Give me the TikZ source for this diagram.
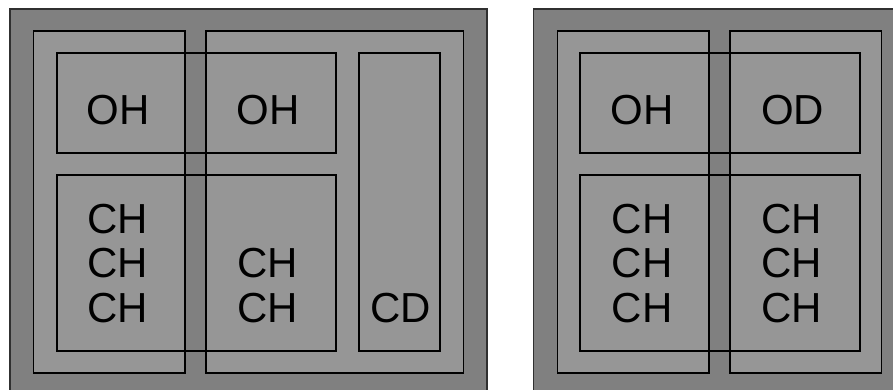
\documentclass[tikz,border=0pt]{standalone}
\usepackage{fontspec}
\setmainfont{Liberation Sans}
\definecolor{outerfill}{HTML}{808080}
\definecolor{innerfill}{HTML}{969696}
\definecolor{outerline}{HTML}{303030}
\begin{document}
\begin{tikzpicture}[x=1pt,y=-1pt,
  panel/.style={fill=outerfill,draw=outerline,line width=1.1pt},
  colbox/.style={fill=innerfill,draw=black,line width=1.4pt},
  rowbox/.style={draw=black,line width=1.4pt},
  lbl/.style={font=\fontsize{42}{44.5}\selectfont,anchor=base,inner sep=0pt,text=black,align=center}]
\useasboundingbox (0,0) rectangle (893,390);
\clip (0,0) rectangle (893,390);
% left panel
\path[panel] (10,9) rectangle (487,400);
\path[colbox] (33.5,31) rectangle (185,373);
\path[colbox] (206,31) rectangle (463.5,373);
\path[rowbox] (57,53) rectangle (336,153);
\path[rowbox] (57,175) rectangle (336,351);
\path[rowbox] (359,53) rectangle (440,351);
\node[lbl] (oh1) at (118,125) {OH};
\node[lbl] (oh2) at (268,125) {OH};
\node[lbl] (ch1a) at (118,233) {CH};
\node[lbl] (ch1b) at (118,277.5) {CH};
\node[lbl] (ch1c) at (118,322) {CH};
\node[lbl] (ch2a) at (268,277.5) {CH};
\node[lbl] (ch2b) at (268,322) {CH};
\node[lbl] (cd) at (401,322) {CD};
% right panel
\path[panel] (533.5,9) rectangle (900,400);
\path[colbox] (557.7,31) rectangle (709,373);
\path[colbox] (730,31) rectangle (881.7,373);
\path[rowbox] (580,53) rectangle (860,153);
\path[rowbox] (580,175) rectangle (860,351);
\node[lbl] (oh3) at (642,125) {OH};
\node[lbl] (od) at (792.5,125) {OD};
\node[lbl] (ch3a) at (642,233) {CH};
\node[lbl] (ch3b) at (642,277.5) {CH};
\node[lbl] (ch3c) at (642,322) {CH};
\node[lbl] (ch4a) at (791.5,233) {CH};
\node[lbl] (ch4b) at (791.5,277.5) {CH};
\node[lbl] (ch4c) at (791.5,322) {CH};
\end{tikzpicture}
\end{document}
